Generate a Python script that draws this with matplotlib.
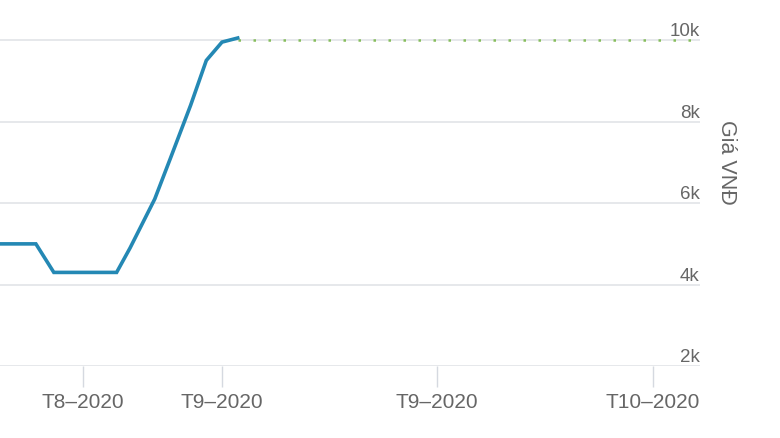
import matplotlib.pyplot as plt

plt.rcParams['font.family'] = ['Liberation Sans', 'DejaVu Sans']

# ========== 数据 ==========
days = [0, 8, 12, 26, 29, 34.5, 38, 42.5, 46, 49.5, 53]
prices = [5000, 5000, 4300, 4300, 4900, 6100, 7100, 8400, 9500, 9950, 10050]

forecast_days = [53, 156]
forecast_prices = [10000, 10000]

tick_pos = [18.5, 49.5, 97.5, 145.5]
tick_labels = ['T8–2020', 'T9–2020', 'T9–2020', 'T10–2020']
y_ticks = [2000, 4000, 6000, 8000, 10000]
y_tick_labels = ['2k', '4k', '6k', '8k', '10k']

fig = plt.figure(figsize=(7.8, 4.38), dpi=100)
ax = fig.add_axes([0, 0.164, 0.897, 0.819])

ax.plot(days, prices, color='#2488b4', linewidth=2.6, solid_joinstyle='miter', zorder=3)
ax.plot(forecast_days, forecast_prices, color='#86bd5c', linewidth=1.8,
        linestyle=(0, (1, 5)), zorder=2)

ax.set_xlim(0, 156)
ax.set_ylim(2000, 10800)

# 网格线
ax.set_yticks(y_ticks)
ax.grid(True, axis='y', color='#e2e4e8', linewidth=1.2)
ax.set_axisbelow(True)
for s in ax.spines.values():
    s.set_visible(False)

# y 轴标签放在右侧，位于网格线上方
ax.yaxis.tick_right()
ax.set_yticklabels(y_tick_labels)
ax.tick_params(axis='y', length=0, pad=0, labelsize=13.5, labelcolor='#666666')
for lab in ax.get_yticklabels():
    lab.set_horizontalalignment('right')
    lab.set_verticalalignment('bottom')

ax.set_xticks(tick_pos)
ax.set_xticklabels(tick_labels)
ax.tick_params(axis='x', length=15, width=1, color='#d5d9e0', pad=4,
               labelsize=15, labelcolor='#666666')

fig.text(0.932, 0.63, 'Giá VNĐ', rotation=-90, ha='center', va='center',
         fontsize=15.5, color='#666666')

plt.savefig('out.png', dpi=100)
plt.close()
